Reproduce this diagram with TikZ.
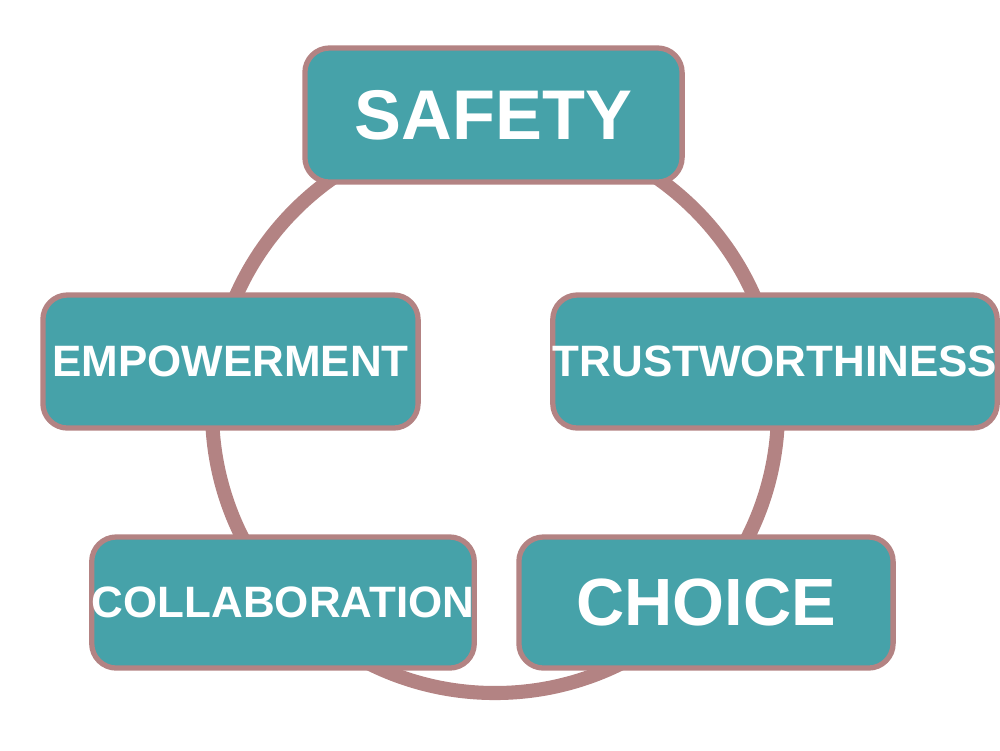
\documentclass[tikz,border=0pt]{standalone}
\usepackage{fontspec}
\setmainfont{Liberation Sans}
\definecolor{teal1}{HTML}{46A2A9}
\definecolor{rose}{HTML}{B38383}
\begin{document}
\begin{tikzpicture}[x=0.01cm,y=-0.01cm,
  box/.style={draw=rose,fill=teal1,line width=1.5pt,rounded corners=7pt,text=white,font=\bfseries,inner sep=0pt}]
\useasboundingbox (0,0) rectangle (1000,750);
\draw[rose,line width=4pt] (495,410) circle (283);
\node[box,minimum width=3.77cm,minimum height=1.34cm,font=\fontsize{20}{24}\bfseries] (s) at (493.5,115) {SAFETY};
\node[box,minimum width=3.75cm,minimum height=1.33cm,font=\fontsize{12.5}{15}\bfseries] (e) at (230.5,361.5) {EMPOWERMENT};
\node[box,minimum width=4.14cm,minimum height=1.33cm,font=\fontsize{12.5}{15}\bfseries] (t) at (775,361.5) {TRUSTWORTHINESS};
\node[box,minimum width=3.74cm,minimum height=1.31cm,font=\fontsize{12.5}{15}\bfseries] (c) at (283,602.5) {COLLABORATION};
\node[box,minimum width=3.74cm,minimum height=1.31cm,font=\fontsize{19}{23}\bfseries] (ch) at (706,602.5) {CHOICE};
\end{tikzpicture}
\end{document}
